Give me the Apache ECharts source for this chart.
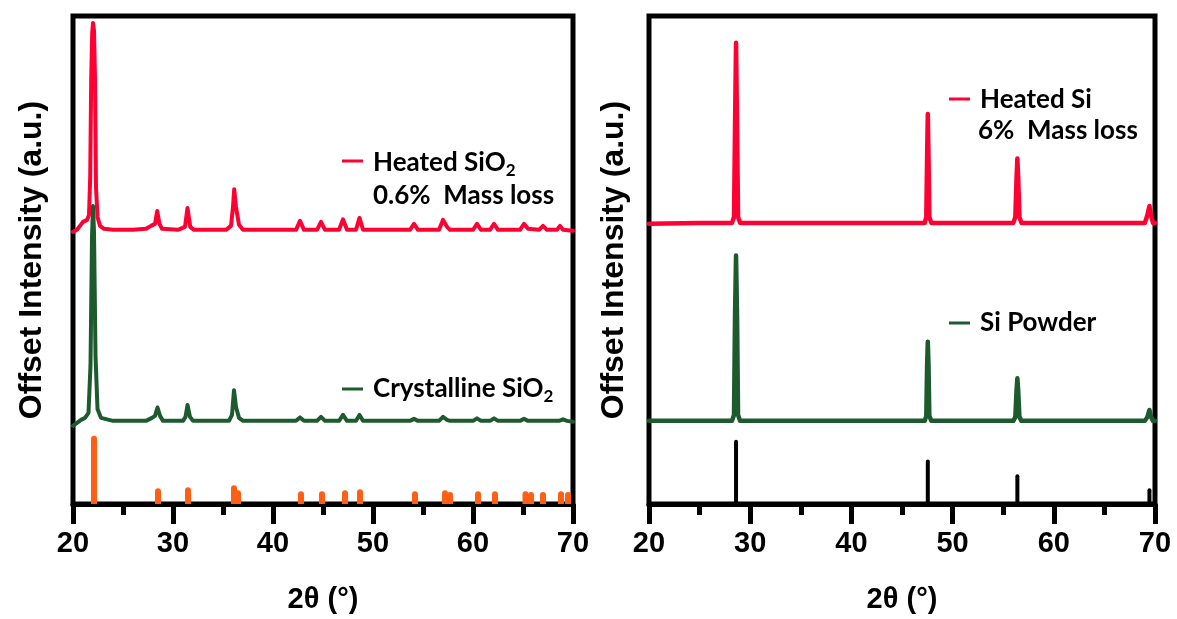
<!DOCTYPE html>
<html>
<head>
<meta charset="utf-8">
<script src="https://cdn.jsdelivr.net/npm/echarts@6/dist/echarts.min.js"></script>
<style>
html,body{margin:0;padding:0;background:#fff;}
#chart{width:1177px;height:619px;}
</style>
</head>
<body>
<div id="chart"></div>
<script>
// ---- Data (2θ in degrees, offset intensity in a.u.) ----
const xTicks = [20, 30, 40, 50, 60, 70];

const heatedSiO2 = [
  [20.0,275],[20.4,277],[20.7,281],[21.0,285],[21.4,287],[21.6,292],[21.72,330],[21.82,430],[21.92,476],[22.0,486],
  [22.1,478],[22.2,430],[22.3,320],[22.45,290],[22.7,281],[23.1,278],[24,277],[26,277],[27.3,278],[27.8,281],
  [28.2,283],[28.42,296],[28.65,283],[28.9,278],[30.5,277],[31.2,280],[31.45,299],[31.72,280],[32.1,277],
  [35.3,277],[35.8,281],[36.0,300],[36.12,318],[36.3,300],[36.6,282],[37.0,277],[42.3,277],[42.7,286],[43.1,277],
  [44.4,277],[44.8,285],[45.2,277],[46.6,277],[47.0,287.5],[47.4,277],[48.3,277],[48.65,289],[49.0,277],
  [53.7,277],[54.1,283],[54.5,277],[56.6,277],[57.0,287],[57.4,280],[57.7,277],[60.0,277],[60.4,283],[60.8,277],
  [61.7,277],[62.1,283],[62.5,277],[64.7,277],[65.1,283],[65.5,278],[66.6,277],[67.0,281],[67.4,277],
  [68.4,277],[68.7,281],[69.0,277],[70.0,276]
];

const crystallineSiO2 = [
  [20.0,79],[20.4,82],[20.8,85],[21.2,87],[21.55,92],[21.75,140],[21.9,270],[22.0,301],[22.1,275],[22.25,150],
  [22.45,96],[22.8,87],[24,84],[27.3,84],[27.9,87],[28.2,89],[28.45,97.5],[28.7,89],[29.0,84],[31.0,84],
  [31.25,88],[31.45,100],[31.7,88],[32.0,84],[35.6,84],[35.9,90],[36.1,115],[36.3,98],[36.6,87],[37.0,84],
  [42.3,84],[42.7,87.5],[43.1,84],[44.4,84],[44.8,88],[45.2,84],[46.6,84],[47.0,90],[47.4,84],[48.3,84],
  [48.65,90],[49.0,84],[53.7,84],[54.1,86],[54.5,84],[56.6,84],[57.0,88],[57.4,85],[57.7,84],[60.0,84],
  [60.4,86.5],[60.8,84],[61.7,84],[62.1,86.5],[62.5,84],[64.7,84],[65.1,86],[65.5,84],[68.6,84],[69.0,85.5],
  [69.4,84],[70.0,83]
];

const cristobaliteRef = [
  [22.1,69],[28.5,16],[31.5,17],[36.1,19],[36.5,14],[42.8,13],[44.9,13],[47.2,14],[48.7,15],[54.2,13],
  [57.2,14],[57.7,12],[60.5,13],[62.2,13],[65.25,13],[65.8,12],[67.0,12],[68.8,13],[69.5,12]
];

const heatedSi = [
  [20.0,283],[25,284],[28.2,284],[28.4,290],[28.5,380],[28.6,466],[28.7,380],[28.8,290],[29.0,284],[35,284],
  [47.25,284],[47.4,290],[47.48,350],[47.55,394],[47.62,350],[47.7,290],[47.9,284],[56.0,284],[56.2,290],
  [56.32,330],[56.4,349],[56.48,330],[56.6,290],[56.8,284],[69.0,284],[69.25,292],[69.45,301],
  [69.6,292],[69.8,284],[70.0,284]
];

const siPowder = [
  [20.0,84],[28.2,84],[28.4,90],[28.5,190],[28.6,251],[28.7,190],[28.8,90],[29.0,84],[47.25,84],[47.4,89],
  [47.48,140],[47.55,164],[47.62,140],[47.7,89],[47.9,84],[56.0,84],[56.2,88],[56.32,115],[56.4,127],
  [56.48,115],[56.6,88],[56.8,84],[69.0,84],[69.25,88],[69.45,95],[69.6,88],[69.8,84],[70.0,84]
];

const siRef = [[28.6,65],[47.55,45],[56.4,30],[69.45,16]];

// ---- Styling ----
const RED = '#FF0033', GREEN = '#1D5B2F', ORANGE = '#FF5F15', BLACK = '#000000';
const axisFont = {fontFamily:'Liberation Sans', fontWeight:'bold', fontSize:29, color:'#000'};
const labelFont = 'bold 26px Lato';

function xAxis(gi) {
  return {
    gridIndex: gi, type:'value', min:20, max:70, interval:10,
    name:'2θ (°)', nameLocation:'middle', nameGap:81,
    nameTextStyle: axisFont,
    axisLine:{show:true, lineStyle:{color:'#000', width:5}},
    axisTick:{show:true, inside:false, length:20, lineStyle:{color:'#000', width:5}},
    minorTick:{show:true, splitNumber:2, length:11, lineStyle:{color:'#000', width:5}},
    axisLabel:Object.assign({margin:25, showMinLabel:true, showMaxLabel:true}, axisFont),
    splitLine:{show:false}
  };
}
function yAxis(gi, gap) {
  return {
    gridIndex: gi, type:'value', min:0, max:493,
    name:'Offset Intensity (a.u.)', nameLocation:'middle', nameGap:gap,
    nameTextStyle: Object.assign({}, axisFont, {fontSize:32}),
    axisLine:{show:false}, axisTick:{show:false}, axisLabel:{show:false}, splitLine:{show:false}
  };
}
function lineSeries(name, data, color, gi, w) {
  return {name, type:'line', data, xAxisIndex:gi, yAxisIndex:gi, symbol:'none',
    lineStyle:{color, width:w, join:'round', cap:'round'}, itemStyle:{color}, z:3, silent:true};
}
function stickSeries(name, data, color, gi, w) {
  return {name, type:'bar', data, xAxisIndex:gi, yAxisIndex:gi, barWidth:w,
    itemStyle:{color, borderRadius:[w/2, w/2, 0, 0]}, z:2, silent:true};
}
const richLabel = {
  a:{fontFamily:'Lato', fontWeight:'bold', fontSize:26, lineHeight:32, verticalAlign:'middle', fill:'#000', color:'#000'},
  s:{fontFamily:'Lato', fontWeight:'bold', fontSize:17, lineHeight:17, verticalAlign:'bottom', fill:'#000', color:'#000'}
};
function legendLine(x, y, color) {
  return {type:'rect', shape:{x:x, y:y-1.5, width:21, height:3}, style:{fill:color}, z:10};
}
function legendText(x, y, text) {
  return {type:'text', x:x, y:y, z:10, style:{text:text, rich:richLabel, verticalAlign:'middle', align:'left', fill:'#000'}};
}
function plainText(x, y, text) {
  return {type:'text', x:x, y:y, z:10, style:{text:text, font:labelFont, verticalAlign:'middle', align:'left', fill:'#000'}};
}

const option = {
  animation:false,
  backgroundColor:'#fff',
  grid:[
    {left:73, right:604, top:16, bottom:110, show:true, borderWidth:5, borderColor:'#000', backgroundColor:'transparent'},
    {left:649, right:22, top:16, bottom:110, show:true, borderWidth:5, borderColor:'#000', backgroundColor:'transparent'}
  ],
  xAxis:[xAxis(0), xAxis(1)],
  yAxis:[yAxis(0, 25), yAxis(1, 19)],
  series:[
    stickSeries('Cristobalite reference', cristobaliteRef, ORANGE, 0, 6),
    lineSeries('Crystalline SiO2', crystallineSiO2, GREEN, 0, 4),
    lineSeries('Heated SiO2', heatedSiO2, RED, 0, 4),
    stickSeries('Si reference', siRef, BLACK, 1, 4),
    lineSeries('Si Powder', siPowder, GREEN, 1, 4.5),
    lineSeries('Heated Si', heatedSi, RED, 1, 4.5)
  ],
  graphic:[
    legendLine(342, 161, RED),
    legendText(373, 163, '{a|Heated SiO}{s|2}'),
    plainText(373, 196, '0.6%  Mass loss'),
    legendLine(342, 389, GREEN),
    legendText(373, 389, '{a|Crystalline SiO}{s|2}'),
    legendLine(949, 99, RED),
    legendText(980, 100, '{a|Heated Si}'),
    plainText(978, 131, '6%  Mass loss'),
    legendLine(949, 323, GREEN),
    legendText(980, 323, '{a|Si Powder}')
  ]
};
const chart = echarts.init(document.getElementById('chart'), null, {renderer:'canvas'});
chart.setOption(option);
</script>
</body>
</html>
